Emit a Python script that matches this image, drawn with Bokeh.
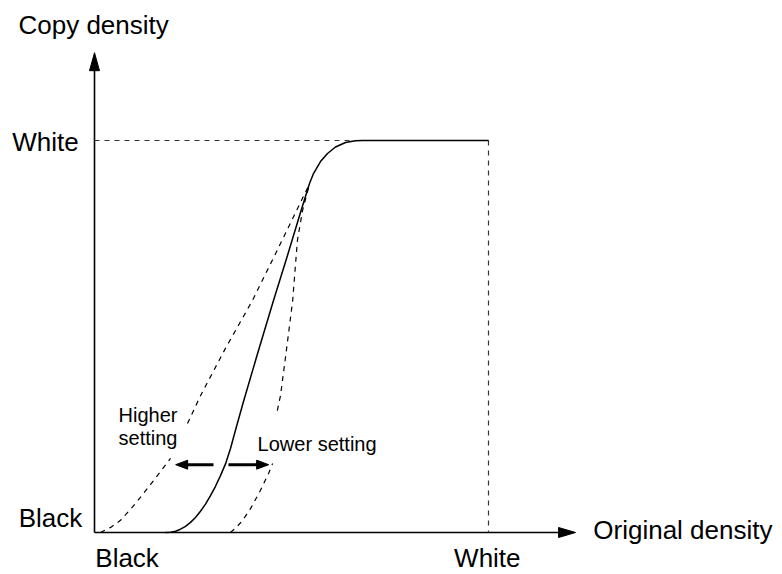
from bokeh.plotting import figure
from bokeh.models import Range1d
from bokeh.core.properties import value
from bokeh.embed import file_html
from bokeh.resources import INLINE

# ---------------- data (density in % of the Black..White span) ----------------
level_labels = ["Black", "White"]
level_values = [0, 100]
axis_max_x = 122.1
axis_max_y = 122.4

# standard characteristic (solid)
standard_x = [18.02, 19.29, 20.56, 21.83, 23.10, 24.37, 25.63, 26.90, 28.17, 29.44, 30.71, 31.98,
              33.25, 34.52, 36.04, 37.82, 41.62, 45.43, 48.98, 52.28, 54.57, 55.58, 57.36, 59.14,
              61.17, 63.71, 66.24, 68.02, 100.0]
standard_y = [0.0, 0.08, 0.33, 0.84, 1.58, 2.58, 3.85, 5.41, 7.24, 9.39, 11.79, 14.52,
              17.50, 21.43, 27.04, 33.42, 46.43, 59.18, 70.66, 81.63, 89.03, 91.58, 94.64, 96.68,
              98.34, 99.49, 99.92, 100.0, 100.0]

# higher setting (dashed, left) - two pieces around the label
higher_x = [1.5, 4.1, 6.6, 10.4, 14.2, 19.3, float("nan"), 23.6, 26.9, 33.2, 40.1, 47.2, 54.6]
higher_y = [0.0, 1.3, 3.1, 7.4, 12.2, 18.9, float("nan"), 27.8, 34.9, 46.9, 59.2, 73.7, 89.0]

# lower setting (dashed, right) - two pieces around the label
lower_x = [34.5, 36.0, 37.6, 39.6, 42.1, 44.2, 45.2, float("nan"), 46.4, 47.2, 48.7, 50.3, 51.5, 52.8, 54.6]
lower_y = [0.0, 1.3, 3.1, 6.1, 10.7, 15.1, 17.6, float("nan"), 31.1, 34.9, 46.4, 59.2, 74.5, 82.1, 89.0]

# shift arrows
shift_arrow_y = 17.3
higher_arrow_from, higher_arrow_to = 30.2, 20.6
lower_arrow_from, lower_arrow_to = 34.0, 44.2

# ---------------- layout ----------------
W, H = 782, 574
PXX, PXY = 3.94, 3.92          # pixels per data unit
X0, Y0 = 94, 532               # canvas position of the origin

p = figure(width=W, height=H, output_backend="svg", toolbar_location=None,
           x_range=Range1d(-X0 / PXX, (W - X0) / PXX),
           y_range=Range1d(-(H - Y0) / PXY, Y0 / PXY),
           min_border=0, outline_line_color=None)
p.axis.visible = False
p.grid.visible = False
p.background_fill_color = "white"
p.border_fill_color = "white"

FONT = value("Liberation Sans")
black_v, white_v = level_values

# axes
p.line([black_v, black_v], [black_v, axis_max_y - 2.0], line_color="black", line_width=1.6)
p.line([black_v, axis_max_x - 2.0], [black_v, black_v], line_color="black", line_width=1.6)

def head(tip_x, tip_y, dx, dy, length_px, half_w_px):
    # triangle arrow head pointing in direction (dx, dy)
    bx = tip_x - dx * length_px / PXX
    by = tip_y - dy * length_px / PXY
    nx, ny = -dy, dx
    return ([tip_x, bx + nx * half_w_px / PXX, bx - nx * half_w_px / PXX],
            [tip_y, by + ny * half_w_px / PXY, by - ny * half_w_px / PXY])

hx, hy = [], []
for hxy in (head(black_v, axis_max_y, 0, 1, 18, 5),
            head(axis_max_x, black_v, 1, 0, 17, 5),
            head(higher_arrow_to, shift_arrow_y, -1, 0, 12, 4.5),
            head(lower_arrow_to, shift_arrow_y, 1, 0, 12, 4.5)):
    hx.append(hxy[0]); hy.append(hxy[1])
p.patches(hx, hy, fill_color="black", line_color="black", line_width=1)

# white-level guides
p.line([black_v, white_v], [white_v, white_v], line_color="#333333", line_width=1.2, line_dash="5 5")
p.line([white_v, white_v], [white_v, black_v], line_color="#333333", line_width=1.2, line_dash="5 5")

# curves
p.line(standard_x, standard_y, line_color="black", line_width=1.5)
p.line(higher_x, higher_y, line_color="black", line_width=1.2, line_dash="5 5")
p.line(lower_x, lower_y, line_color="black", line_width=1.2, line_dash="5 5")

# shift arrow shafts
p.line([higher_arrow_from, higher_arrow_to + 2.5], [shift_arrow_y] * 2, line_color="black", line_width=3)
p.line([lower_arrow_from, lower_arrow_to - 2.5], [shift_arrow_y] * 2, line_color="black", line_width=3)

# texts (y = vertical centre of the capitals)
big = "26px"
common = dict(text_font=FONT, text_baseline="middle", text_color="black")
p.text(x=[-19.3], y=[129.5], text=["Copy density"], text_font_size=big, text_align="left", **common)
p.text(x=[-4.0, -3.1], y=[99.6, 3.7], text=[level_labels[1], level_labels[0]],
       text_font_size=big, text_align="right", **common)
p.text(x=[0.2], y=[-6.6], text=[level_labels[0]], text_font_size=big, text_align="left", **common)
p.text(x=[99.7], y=[-6.6], text=[level_labels[1]], text_font_size=big, text_align="center", **common)
p.text(x=[126.6], y=[0.75], text=["Original density"], text_font_size=big, text_align="left", **common)

small = "20px"
p.text(x=[6.1, 6.1], y=[30.0, 24.0], text=["Higher", "setting"], text_font_size=small,
       text_align="left", **common)
p.text(x=[41.4], y=[22.5], text=["Lower setting"], text_font_size=small, text_align="left", **common)

open("out.html", "w").write(file_html(p, INLINE))
